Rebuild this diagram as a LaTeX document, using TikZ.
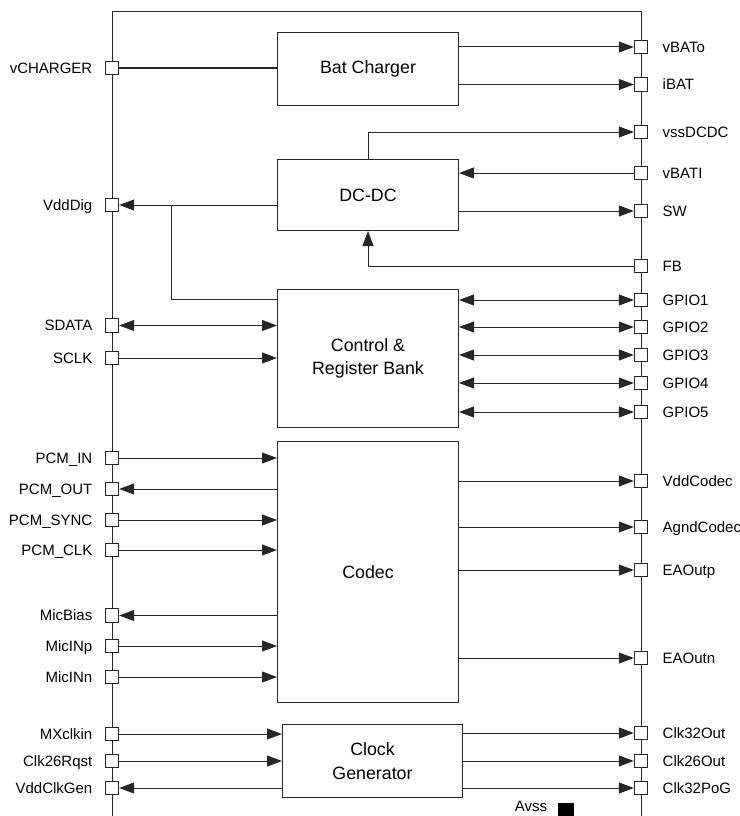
\documentclass[tikz,border=0pt]{standalone}
\usepackage{fontspec}
\setmainfont{Liberation Sans}
\usetikzlibrary{arrows.meta}
\begin{document}
\begin{tikzpicture}[x=1pt,y=-1pt,
  line width=1pt, draw=black!85,
  pinbox/.style={draw=black!85, fill=white, minimum size=13.5pt, inner sep=0pt, line width=0.9pt},
  blk/.style={draw=black!85, anchor=north west, inner sep=0pt, align=center, font=\fontsize{17.8}{23.5}\selectfont},
  lbl/.style={font=\fontsize{15}{17}\selectfont, inner sep=0pt, text height=10.5pt, text depth=0pt},
  ll/.style={label={[lbl,label distance=12pt]left:#1}},
  rl/.style={label={[lbl,label distance=14pt]right:#1}},
  tip/.style={-{Triangle[length=15pt,width=11pt]}},
  both/.style={{Triangle[length=15pt,width=11pt]}-{Triangle[length=15pt,width=11pt]}}]
\useasboundingbox (0,0) rectangle (739,816);
% frame
\draw (112,820) -- (112,12) -- (641,12) -- (641,820);
% blocks
\node[blk, minimum width=181pt, minimum height=73pt] (bat) at (277,32) {Bat Charger};
\node[blk, minimum width=181pt, minimum height=71pt] (dcdc) at (277,159) {DC-DC};
\node[blk, minimum width=181pt, minimum height=138pt] (ctrl) at (277,289) {Control \&\\Register Bank};
\node[blk, minimum width=181pt, minimum height=261pt] (codec) at (277,441) {Codec};
\node[blk, minimum width=180pt, minimum height=73pt] (clk) at (282,724) {Clock\\Generator};
% left pins
\node[pinbox, ll=vCHARGER] (vCHARGER) at (112,68) {};
\node[pinbox, ll=VddDig] (VddDig) at (112,205) {};
\node[pinbox, ll=SDATA] (SDATA) at (112,325.5) {};
\node[pinbox, ll=SCLK] (SCLK) at (112,358) {};
\node[pinbox, ll=PCM\_IN] (PCMIN) at (112,458) {};
\node[pinbox, ll=PCM\_OUT] (PCMOUT) at (112,489) {};
\node[pinbox, ll=PCM\_SYNC] (PCMSYNC) at (112,520) {};
\node[pinbox, ll=PCM\_CLK] (PCMCLK) at (112,550) {};
\node[pinbox, ll=MicBias] (MicBias) at (112,615.5) {};
\node[pinbox, ll=MicINp] (MicINp) at (112,646) {};
\node[pinbox, ll=MicINn] (MicINn) at (112,677) {};
\node[pinbox, ll=MXclkin] (MXclkin) at (112,734) {};
\node[pinbox, ll=Clk26Rqst] (Clk26Rqst) at (112,761) {};
\node[pinbox, ll=VddClkGen] (VddClkGen) at (112,788) {};
% right pins
\node[pinbox, rl=vBATo] (vBATo) at (641,47) {};
\node[pinbox, rl=iBAT] (iBAT) at (641,84.5) {};
\node[pinbox, rl=vssDCDC] (vssDCDC) at (641,132) {};
\node[pinbox, rl=vBATI] (vBATI) at (641,173) {};
\node[pinbox, rl=SW] (SW) at (641,211) {};
\node[pinbox, rl=FB] (FB) at (641,266) {};
\node[pinbox, rl=GPIO1] (GPIO1) at (641,300) {};
\node[pinbox, rl=GPIO2] (GPIO2) at (641,327) {};
\node[pinbox, rl=GPIO3] (GPIO3) at (641,355) {};
\node[pinbox, rl=GPIO4] (GPIO4) at (641,383) {};
\node[pinbox, rl=GPIO5] (GPIO5) at (641,412) {};
\node[pinbox, rl=VddCodec] (VddCodec) at (641,481) {};
\node[pinbox, rl=AgndCodec] (AgndCodec) at (641,527) {};
\node[pinbox, rl=EAOutp] (EAOutp) at (641,570) {};
\node[pinbox, rl=EAOutn] (EAOutn) at (641,658) {};
\node[pinbox, rl=Clk32Out] (Clk32Out) at (641,733) {};
\node[pinbox, rl=Clk26Out] (Clk26Out) at (641,761) {};
\node[pinbox, rl=Clk32PoG] (Clk32PoG) at (641,788) {};
% Avss
\node[lbl] (avss) at (531,806) {Avss};
\node[fill=black, draw=none, minimum size=16pt, inner sep=0pt, anchor=north west] (avsspad) at (557,802) {};
% connectors: Bat Charger
\draw (vCHARGER.east) -- (bat.west |- vCHARGER);
\draw[tip] (bat.east |- vBATo) -- (vBATo.west);
\draw[tip] (bat.east |- iBAT) -- (iBAT.west);
% DC-DC
\draw[tip] (dcdc.north) |- (vssDCDC.west);
\draw[tip] (vBATI.west) -- (dcdc.east |- vBATI);
\draw[tip] (dcdc.east |- SW) -- (SW.west);
\draw[tip] (FB.west) -| (dcdc.south);
\draw[tip] (dcdc.west |- VddDig) -- (VddDig.east);
\coordinate (br) at (171,205);
\draw (br) |- ([yshift=-10pt]ctrl.north west);
% Control
\draw[both] (SDATA.east) -- (ctrl.west |- SDATA);
\draw[tip] (SCLK.east) -- (ctrl.west |- SCLK);
\draw[both] (ctrl.east |- GPIO1) -- (GPIO1.west);
\draw[both] (ctrl.east |- GPIO2) -- (GPIO2.west);
\draw[both] (ctrl.east |- GPIO3) -- (GPIO3.west);
\draw[both] (ctrl.east |- GPIO4) -- (GPIO4.west);
\draw[both] (ctrl.east |- GPIO5) -- (GPIO5.west);
% Codec
\draw[tip] (PCMIN.east) -- (codec.west |- PCMIN);
\draw[tip] (codec.west |- PCMOUT) -- (PCMOUT.east);
\draw[tip] (PCMSYNC.east) -- (codec.west |- PCMSYNC);
\draw[tip] (PCMCLK.east) -- (codec.west |- PCMCLK);
\draw[tip] (codec.west |- MicBias) -- (MicBias.east);
\draw[tip] (MicINp.east) -- (codec.west |- MicINp);
\draw[tip] (MicINn.east) -- (codec.west |- MicINn);
\draw[tip] (codec.east |- VddCodec) -- (VddCodec.west);
\draw[tip] (codec.east |- AgndCodec) -- (AgndCodec.west);
\draw[tip] (codec.east |- EAOutp) -- (EAOutp.west);
\draw[tip] (codec.east |- EAOutn) -- (EAOutn.west);
% Clock
\draw[tip] (MXclkin.east) -- (clk.west |- MXclkin);
\draw[tip] (Clk26Rqst.east) -- (clk.west |- Clk26Rqst);
\draw[tip] (clk.west |- VddClkGen) -- (VddClkGen.east);
\draw[tip] (clk.east |- Clk32Out) -- (Clk32Out.west);
\draw[tip] (clk.east |- Clk26Out) -- (Clk26Out.west);
\draw[tip] (clk.east |- Clk32PoG) -- (Clk32PoG.west);
\end{tikzpicture}
\end{document}
